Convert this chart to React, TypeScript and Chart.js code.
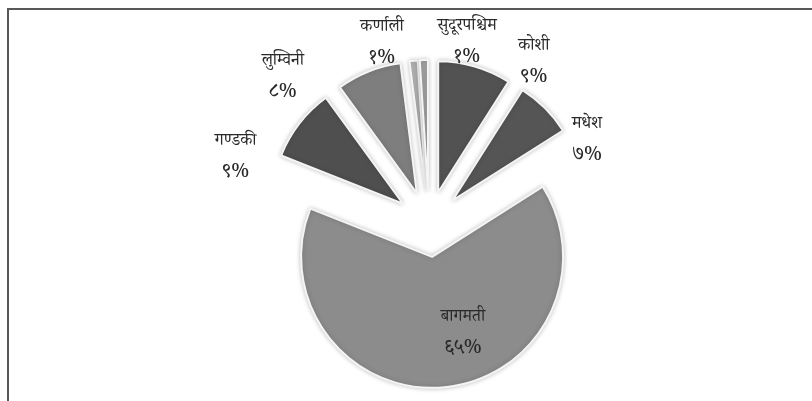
import React, { useEffect, useRef } from "react";
import { Chart, registerables } from "chart.js";

Chart.register(...registerables);

const categories = ["कोशी", "मधेश", "बागमती", "गण्डकी", "लुम्विनी", "कर्णाली", "सुदूरपश्चिम"];
const values = [9, 7, 65, 9, 8, 1, 1];
const percentLabels = ["९%", "७%", "६५%", "९%", "८%", "१%", "१%"];

const sliceColors = ["#525252", "#555555", "#8c8c8c", "#4f4f4f", "#7e7e7e", "#b4b4b4", "#a2a2a2"];
const EXPLODE = 33;
// label anchor: angle (deg clockwise from top) and distance from pie centre
const labelAngles = [33.3, 62.6, 163, 288.6, 314.8, 345.3, 11.9];
const labelDists = [191, 178, 116, 204, 206, 185, 184];

const FONT = '"Noto Serif Devanagari", "Noto Sans Devanagari", "Lohit Devanagari", Mangal, serif';

const explodePlugin = {
  id: "explodeSlices",
  beforeDatasetDraw(chart: any, args: any) {
    const ctx = chart.ctx;
    args.meta.data.forEach((arc: any) => {
      const { startAngle, endAngle } = arc.getProps(["startAngle", "endAngle"], true);
      const mid = (startAngle + endAngle) / 2;
      ctx.save();
      ctx.translate(Math.cos(mid) * EXPLODE, Math.sin(mid) * EXPLODE);
      ctx.shadowColor = "rgba(0,0,0,0.22)";
      ctx.shadowBlur = 5;
      arc.draw(ctx, chart.chartArea);
      ctx.restore();
    });
    return false;
  },
};

const labelPlugin = {
  id: "outLabels",
  afterDatasetsDraw(chart: any) {
    const meta = chart.getDatasetMeta(0);
    const ctx = chart.ctx;
    ctx.save();
    ctx.textAlign = "center";
    ctx.textBaseline = "middle";
    meta.data.forEach((arc: any, i: number) => {
      const a = (labelAngles[i] * Math.PI) / 180;
      const cx = arc.x + Math.sin(a) * labelDists[i];
      const cy = arc.y - Math.cos(a) * labelDists[i];
      ctx.fillStyle = "#2a2a2a";
      ctx.font = `17px ${FONT}`;
      ctx.fillText(categories[i], cx, cy - 16);
      ctx.font = `20px ${FONT}`;
      ctx.fillText(percentLabels[i], cx, cy + 16);
    });
    ctx.restore();
  },
};

export default function App() {
  const ref = useRef<HTMLCanvasElement | null>(null);
  useEffect(() => {
    if (!ref.current) return;
    const chart = new Chart(ref.current, {
      type: "pie",
      data: {
        labels: categories,
        datasets: [
          {
            data: values,
            backgroundColor: sliceColors,
            borderColor: "#f4f4f4",
            borderWidth: 2,
            radius: 131,
          } as any,
        ],
      },
      options: {
        animation: false,
        responsive: false,
        layout: { padding: { left: 46, right: 0, top: 47, bottom: 0 } },
        plugins: { legend: { display: false }, tooltip: { enabled: false } },
      },
      plugins: [explodePlugin, labelPlugin],
    });
    return () => chart.destroy();
  }, []);
  return (
    <>
      <div
        style={{
          position: "fixed",
          left: 0,
          top: 0,
          width: 812,
          height: 401,
          background: "#ffffff",
        }}
      >
        <canvas ref={ref} width={812} height={401} style={{ display: "block" }} />
      </div>
      <div
        style={{
          position: "fixed",
          left: 7,
          top: 8,
          width: 900,
          height: 500,
          borderTop: "2px solid #585858",
          borderLeft: "2px solid #585858",
          pointerEvents: "none",
        }}
      />
    </>
  );
}
